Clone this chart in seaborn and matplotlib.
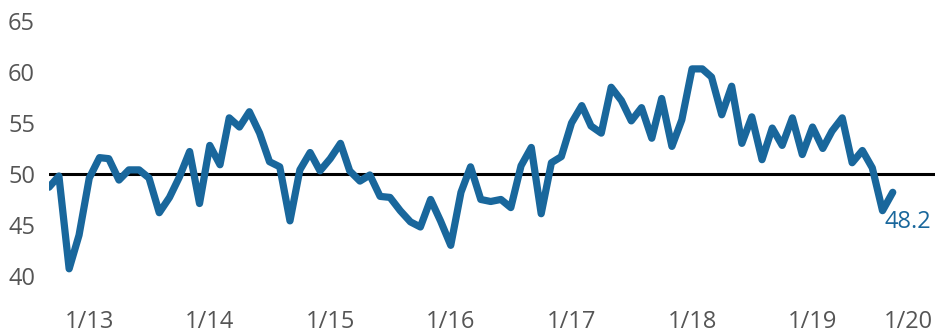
import matplotlib
matplotlib.use("Agg")
import matplotlib.pyplot as plt
import seaborn as sns
import pandas as pd

# ---- data (monthly index, Sep 2012 - Sep 2019) ----
start_month = "2012-09-01"
values = [
    48.7, 49.8, 40.7, 44.0, 49.6, 51.6, 51.5, 49.4, 50.4, 50.4,
    49.6, 46.2, 47.7, 49.7, 52.2, 47.1, 52.8, 50.9, 55.5, 54.6,
    56.1, 54.0, 51.2, 50.7, 45.4, 50.4, 52.1, 50.3, 51.5, 53.0,
    50.3, 49.3, 49.9, 47.8, 47.7, 46.4, 45.3, 44.8, 47.5, 45.4,
    43.0, 48.2, 50.7, 47.5, 47.3, 47.5, 46.7, 50.8, 52.6, 46.1,
    51.1, 51.7, 55.0, 56.7, 54.7, 54.0, 58.5, 57.2, 55.2, 56.5,
    53.5, 57.4, 52.7, 55.3, 60.3, 60.3, 59.5, 55.8, 58.6, 53.0,
    55.6, 51.4, 54.5, 52.8, 55.5, 51.9, 54.6, 52.5, 54.2, 55.5,
    51.1, 52.3, 50.6, 46.4, 48.2,
]
tick_dates = ["2013-01-01", "2014-01-01", "2015-01-01", "2016-01-01",
              "2017-01-01", "2018-01-01", "2019-01-01", "2020-01-01"]
tick_labels = ["1/13", "1/14", "1/15", "1/16", "1/17", "1/18", "1/19", "1/20"]
y_ticks = [40, 45, 50, 55, 60, 65]
reference_level = 50

df = pd.DataFrame({
    "month": pd.date_range(start_month, periods=len(values), freq="MS"),
    "index": values,
})

sns.set_style("white")
plt.rcParams["font.family"] = ["Open Sans", "DejaVu Sans"]

line_color = "#19679c"
text_color = "#555555"

fig = plt.figure(figsize=(9.35, 3.36), dpi=100)
ax = fig.add_axes([49 / 935, 0.118, 1 - 49 / 935, 0.85])

ax.axhline(reference_level, color="black", lw=2.2, zorder=1)
sns.lineplot(data=df, x="month", y="index", ax=ax, color=line_color,
             lw=5.2, solid_joinstyle="round", solid_capstyle="round", zorder=2)

ax.set_xlim(df["month"].iloc[0], pd.Timestamp("2020-01-07"))
ax.set_ylim(38, 66)

ax.set_yticks(y_ticks)
ax.set_yticklabels([str(v) for v in y_ticks])
ax.set_xticks(pd.to_datetime(tick_dates))
ax.set_xticklabels(tick_labels)
xt = ax.get_xticklabels()
xt[-1].set_horizontalalignment("right")

ax.tick_params(axis="both", length=0, labelsize=17, labelcolor=text_color)
ax.tick_params(axis="y", pad=10)
ax.tick_params(axis="x", pad=10)
ax.set_xlabel("")
ax.set_ylabel("")
for s in ax.spines.values():
    s.set_visible(False)

last = df.iloc[-1]
ax.text(last["month"] - pd.Timedelta(days=25), last["index"] - 2.9,
        f"{last['index']:.1f}", color=line_color, fontsize=17,
        ha="left", va="center", clip_on=False)

fig.savefig("out.png", dpi=100)
